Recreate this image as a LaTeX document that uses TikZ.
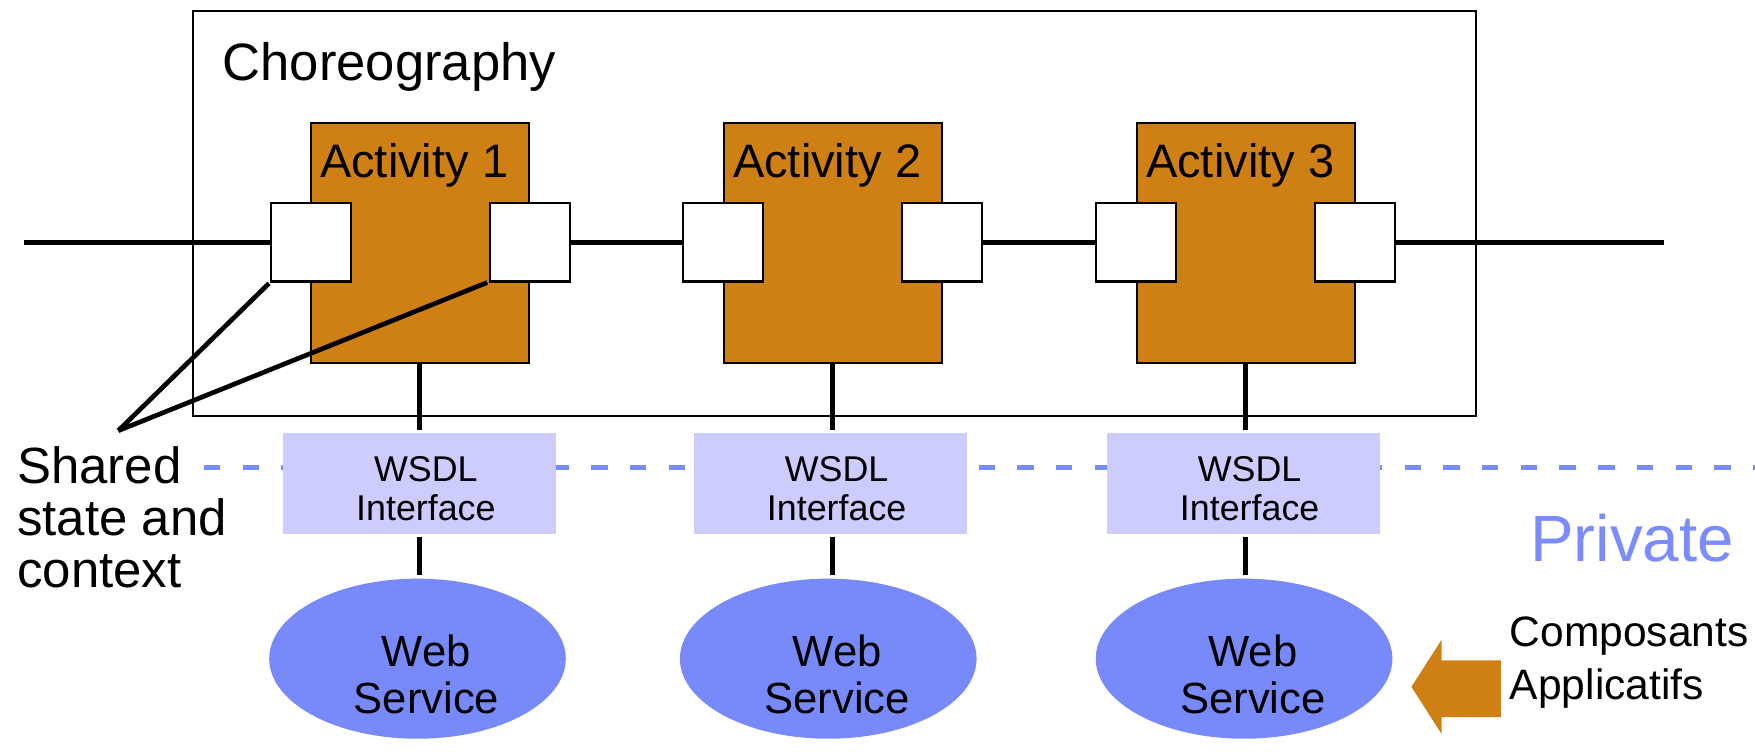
\documentclass[tikz,border=0pt]{standalone}
\usepackage{fontspec}
\setmainfont{Liberation Sans}
\usetikzlibrary{shapes.geometric}
\definecolor{actorange}{RGB}{207,128,20}
\definecolor{wsdlfill}{RGB}{204,204,255}
\definecolor{wsblue}{RGB}{120,137,250}
\definecolor{dashblue}{RGB}{123,140,255}
\tikzset{
  chorbox/.style={draw=black,line width=0.9pt,fill=none},
  actbox/.style={draw=black,line width=0.9pt,fill=actorange,rectangle,inner sep=0pt,outer sep=0pt,minimum width=97.5pt,minimum height=107.2pt},
  portbox/.style={draw=black,line width=0.9pt,fill=white,rectangle,inner sep=0pt,outer sep=0pt,minimum width=35.75pt,minimum height=35pt},
  wsdlbox/.style={fill=wsdlfill,draw=none,rectangle,inner sep=0pt,outer sep=0pt,minimum width=122pt,minimum height=45pt},
  wsnode/.style={fill=wsblue,draw=none,ellipse,inner sep=0pt,outer sep=0pt,minimum width=132.5pt,minimum height=71.5pt},
  thickline/.style={draw=black,line width=2.1pt},
  dashline/.style={draw=dashblue,line width=2.1pt,dash pattern=on 7.3pt off 10pt},
  txt/.style={inner sep=0pt,outer sep=0pt,text=black},
  actlabel/.style={txt,anchor=base west,font=\fontsize{21pt}{25pt}\selectfont},
  wsdllabel/.style={txt,anchor=base,align=center,font=\fontsize{16pt}{17.5pt}\selectfont},
  wslabel/.style={txt,anchor=base,align=center,font=\fontsize{19.5pt}{20.85pt}\selectfont},
}
\begin{document}
\begin{tikzpicture}[x=0.5pt,y=-0.5pt]
\useasboundingbox (0,0) rectangle (1568,674);
% choreography frame
\node[chorbox,rectangle,inner sep=0pt,outer sep=0pt,minimum width=573.15pt,minimum height=180.95pt] (chor) at (745.85,190.75) {};
\node[txt,anchor=base west,font=\fontsize{23.5pt}{28pt}\selectfont] (chortxt) at (199,71.5) {Choreography};
% dashed public/private line
\coordinate (dstart) at (182.3,417.5);
\coordinate (dend) at (1568,417.5);
\draw[dashline] (dstart) -- (dend);
% activities
\node[actbox] (a1) at (375,217.4) {};
\node[actbox] (a2) at (744,217.4) {};
\node[actbox] (a3) at (1113,217.4) {};
\node[actlabel] (a1t) at (286,158.4) {Activity 1};
\node[actlabel] (a2t) at (655,158.4) {Activity 2};
\node[actlabel] (a3t) at (1024,158.4) {Activity 3};
% ports
\node[portbox] (p1l) at (277.8,216.5) {};
\node[portbox] (p1r) at (473.3,216.5) {};
\node[portbox] (p2l) at (646.3,216.5) {};
\node[portbox] (p2r) at (841.8,216.5) {};
\node[portbox] (p3l) at (1015.3,216.5) {};
\node[portbox] (p3r) at (1210.8,216.5) {};
% main line
\coordinate (lstart) at (21.5,216.5);
\coordinate (lend) at (1487,216.5);
\draw[thickline] (lstart) -- (p1l.west);
\draw[thickline] (p1r.east) -- (p2l.west);
\draw[thickline] (p2r.east) -- (p3l.west);
\draw[thickline] (p3r.east) -- (lend);
% shared state pointers
\coordinate (apex) at (105.7,384.8);
\draw[thickline,shorten >=1.2pt] (apex) -- (p1l.south west);
\draw[thickline,shorten >=1.2pt] (apex) -- (p1r.south west);
% WSDL interfaces
\node[wsdlbox] (w1) at (375,432) {};
\node[wsdlbox] (w2) at (742,432) {};
\node[wsdlbox] (w3) at (1111,432) {};
\node[wsdllabel] (w1t) at (380.5,465.2) {WSDL\\Interface};
\node[wsdllabel] (w2t) at (747.5,465.2) {WSDL\\Interface};
\node[wsdllabel] (w3t) at (1116.5,465.2) {WSDL\\Interface};
% web services
\node[wsnode] (s1) at (373,588.5) {};
\node[wsnode] (s2) at (740,588.5) {};
\node[wsnode] (s3) at (1111.5,588.5) {};
\node[wslabel] (s1t) at (381,637.3) {Web\\Service};
\node[wslabel] (s2t) at (748,637.3) {Web\\Service};
\node[wslabel] (s3t) at (1119.5,637.3) {Web\\Service};
% vertical connectors
\draw[thickline,shorten >=1.5pt] (a1.south) -- (w1.north -| a1.south);
\draw[thickline,shorten >=1.5pt] (a2.south) -- (w2.north -| a2.south);
\draw[thickline,shorten >=1.5pt] (a3.south) -- (w3.north -| a3.south);
\draw[thickline,shorten <=1.25pt,shorten >=1.5pt] (w1.south -| a1.south) -- (s1.north -| a1.south);
\draw[thickline,shorten <=1.25pt,shorten >=1.5pt] (w2.south -| a2.south) -- (s2.north -| a2.south);
\draw[thickline,shorten <=1.25pt,shorten >=1.5pt] (w3.south -| a3.south) -- (s3.north -| a3.south);
% side texts
\node[txt,anchor=base west,align=left,font=\fontsize{22.75pt}{23.25pt}\selectfont] (shared) at (15.5,524.7) {Shared\\state and\\context};
\node[txt,anchor=base west,text=dashblue,font=\fontsize{29.25pt}{34pt}\selectfont] (private) at (1367,502) {Private};
\node[txt,anchor=base west,align=left,font=\fontsize{19pt}{23.5pt}\selectfont] (compo) at (1349,625) {Composants\\Applicatifs};
% orange arrow
\fill[actorange] (1261,613.7) -- (1288,571.5) -- (1288,590) -- (1341,590) -- (1341,640.6) -- (1288,640.6) -- (1288,655.8) -- cycle;
\end{tikzpicture}
\end{document}
